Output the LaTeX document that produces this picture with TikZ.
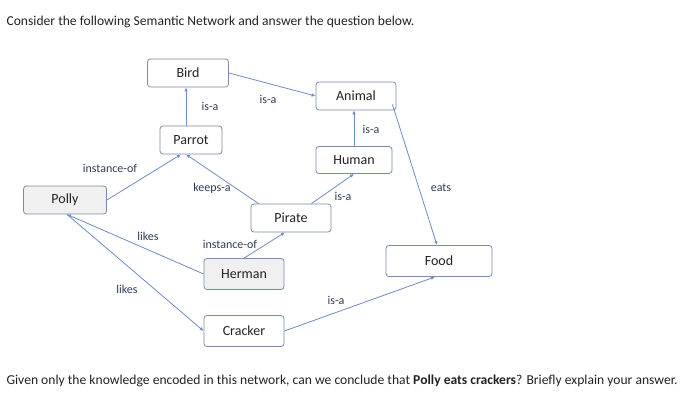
\documentclass[tikz,border=0pt]{standalone}
\usepackage{fontspec}
\setmainfont{Carlito}
\usetikzlibrary{arrows.meta}
\definecolor{edge}{HTML}{6F8BC4}
\definecolor{bord}{HTML}{7A8CA8}
\definecolor{txt}{HTML}{222222}
\definecolor{lab}{HTML}{2E3B55}
\begin{document}
\begin{tikzpicture}[x=1pt,y=-1pt,
  nd/.style={draw=bord,rounded corners=3pt,fill=white,minimum width=80pt,minimum height=28pt,font=\fontsize{14}{16}\selectfont,text=txt,line width=0.8pt,inner sep=0pt},
  gr/.style={nd,fill=gray!12},
  ed/.style={draw=edge,line width=0.8pt,-{Latex[length=4pt,width=3.5pt]}},
  lb/.style={font=\fontsize{12}{14}\selectfont,text=lab}]
\useasboundingbox (0,0) rectangle (700,411);
\node[anchor=west,font=\fontsize{13.6}{15}\selectfont,text=txt] (t1) at (3,22) {Consider the following Semantic Network and answer the question below.};
\node[anchor=west,font=\fontsize{13.6}{15}\selectfont,text=txt] (t2) at (3,381) {Given only the knowledge encoded in this network, can we conclude that \textbf{Polly eats crackers}? Briefly explain your answer.};
\node[nd,minimum width=81pt] (bird) at (188,73) {Bird};
\node[nd] (animal) at (356,96) {Animal};
\node[nd,minimum width=62pt] (parrot) at (191,140) {Parrot};
\node[nd,minimum width=76pt,minimum height=27pt] (human) at (354,160) {Human};
\node[gr,minimum width=83pt] (polly) at (65,200) {Polly};
\node[nd] (pirate) at (291,218) {Pirate};
\node[gr,minimum height=31pt] (herman) at (244,274) {Herman};
\node[nd,minimum width=106pt,minimum height=31pt] (food) at (439,261) {Food};
\node[nd,minimum height=31pt] (cracker) at (244,331) {Cracker};
\draw[ed] (parrot.north -| bird.south) ++(-2,0) coordinate (pb) -- (pb |- bird.south);
\draw[ed] (bird.east) -- (animal.west);
\draw[ed] (human.north) -- (human.north |- animal.south);
\draw[ed] (pirate.north east) ++(-20,0) coordinate (pe) -- (human.south);
\draw[ed] (polly.east) -- ([xshift=-10pt]parrot.south);
\draw[ed] (pirate.north west) ++(8,0) coordinate (pw) -- ([xshift=-5pt]parrot.south);
\draw[ed] (herman.north) -- ([xshift=-6pt]pirate.south);
\draw[ed] (herman.west) -- ([xshift=2pt]polly.south);
\draw[ed] ([xshift=2pt]polly.south) -- (cracker.west);
\draw[ed] (cracker.east) -- ([xshift=-4pt]food.south);
\draw[ed] ([xshift=-4pt,yshift=6pt]animal.south east) -- ([xshift=-2pt]food.north);
\node[lb] (l1) at (210,106) {is-a};
\node[lb] (l2) at (268,99) {is-a};
\node[lb] (l3) at (371,129) {is-a};
\node[lb] (l4) at (343,196) {is-a};
\node[lb] (l5) at (110,168) {instance-of};
\node[lb] (l6) at (212,188) {keeps-a};
\node[lb] (l7) at (230,244) {instance-of};
\node[lb] (l8) at (148,236) {likes};
\node[lb] (l9) at (127,289) {likes};
\node[lb] (l10) at (336,300) {is-a};
\node[lb] (l11) at (441,188) {eats};
\end{tikzpicture}
\end{document}
